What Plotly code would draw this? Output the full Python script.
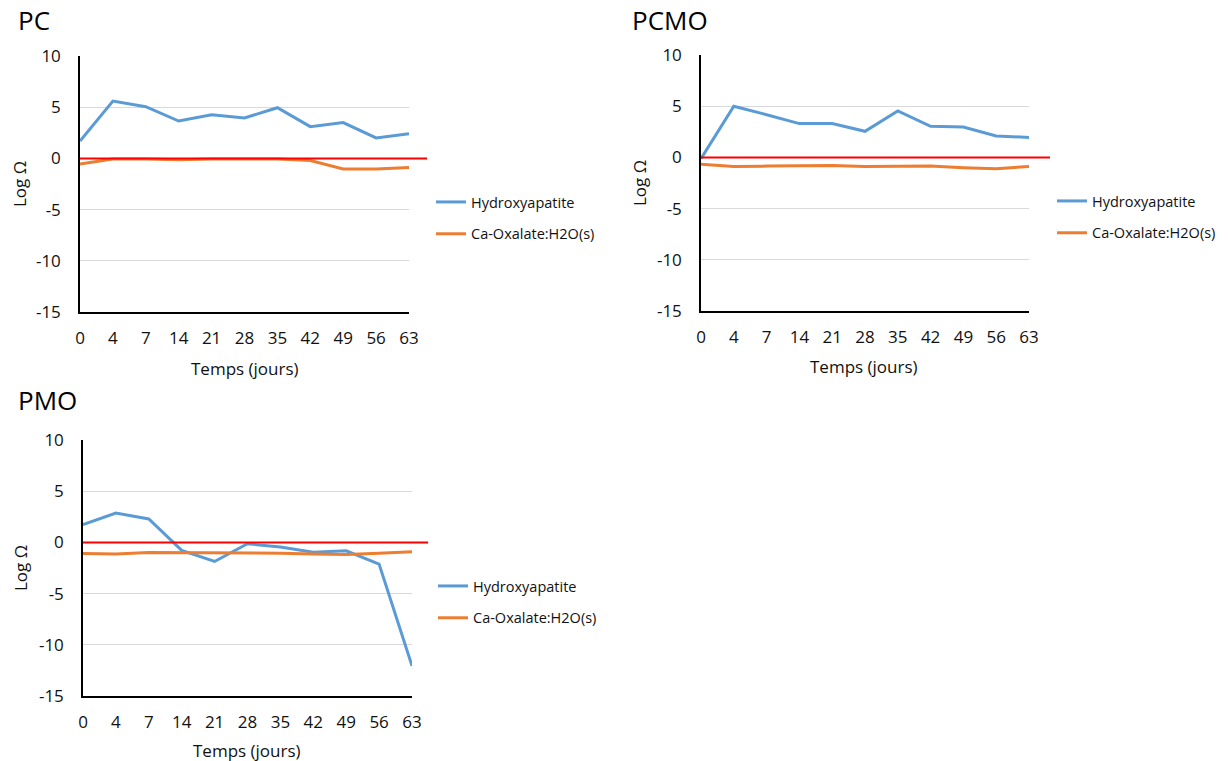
import plotly.graph_objects as go

days = ["0", "4", "7", "14", "21", "28", "35", "42", "49", "56", "63"]
series_names = ["Hydroxyapatite", "Ca-Oxalate:H2O(s)"]

pc_hydroxy = [1.7, 5.6, 5.05, 3.65, 4.25, 3.95, 4.95, 3.1, 3.5, 2.0, 2.4]
pc_oxalate = [-0.55, -0.05, -0.05, -0.12, -0.05, -0.05, -0.05, -0.2, -1.04, -1.04, -0.88]

pcmo_hydroxy = [-0.12, 5.0, 4.17, 3.3, 3.3, 2.55, 4.53, 3.03, 2.96, 2.1, 1.95]
pcmo_oxalate = [-0.68, -0.9, -0.85, -0.85, -0.78, -0.9, -0.9, -0.85, -1.0, -1.1, -0.88]

pmo_hydroxy = [1.73, 2.87, 2.29, -0.78, -1.86, -0.13, -0.46, -0.95, -0.82, -2.12, -12.06]
pmo_oxalate = [-1.08, -1.14, -0.98, -0.98, -1.01, -1.05, -1.05, -1.14, -1.18, -1.05, -0.92]

panel_titles = ["PC", "PCMO", "PMO"]
y_ticks = [-15, -10, -5, 0, 5, 10]
y_ticktext = ["-15", "-10", "-5", "0", "5", "10"]
x_title = "Temps (jours)"
y_title = "Log Ω"

BLUE = "#5B9BD5"
ORANGE = "#ED7D31"
FONT = "Open Sans"
TXT = "#111111"
W, H = 1230, 761


def px(x):
    return x / W


def py(y):
    return 1 - y / H


panels = [
    dict(h=pc_hydroxy, o=pc_oxalate, xd=(80, 409), yd=(56, 312), leg=(431, 186),
         title=(17, 20), ytl=(19, 184), xtl=(245, 368), redx1=1.055),
    dict(h=pcmo_hydroxy, o=pcmo_oxalate, xd=(701, 1029), yd=(55, 311), leg=(1052, 185),
         title=(631, 20), ytl=(639, 183), xtl=(864, 366), redx1=1.064),
    dict(h=pmo_hydroxy, o=pmo_oxalate, xd=(83, 412), yd=(440, 696), leg=(433, 570),
         title=(17, 400), ytl=(20, 568), xtl=(247, 750), redx1=1.049),
]

fig = go.Figure()
layout = dict(width=W, height=H, margin=dict(l=0, r=0, t=0, b=0, autoexpand=False),
              plot_bgcolor="white", paper_bgcolor="white",
              font=dict(family=FONT, color=TXT), showlegend=True)
annotations = []
shapes = []

for i, p in enumerate(panels):
    n = "" if i == 0 else str(i + 1)
    xa, ya = "x" + n, "y" + n
    lg = "legend" + n
    for vals, name, col in [(p["h"], series_names[0], BLUE), (p["o"], series_names[1], ORANGE)]:
        fig.add_trace(go.Scatter(x=days, y=vals, mode="lines", name=name,
                                 line=dict(color=col, width=3),
                                 xaxis=xa, yaxis=ya, legend=lg,
                                 legendgroup=name + n, showlegend=True))
    layout["xaxis" + n] = dict(
        domain=[px(p["xd"][0]), px(p["xd"][1])], anchor=ya, type="category",
        categoryorder="array", categoryarray=days, automargin=False,
        showline=True, linecolor="#000000", linewidth=1.5, showgrid=False,
        ticks="", tickfont=dict(size=17, color=TXT), ticklabelstandoff=10)
    layout["yaxis" + n] = dict(
        domain=[py(p["yd"][1]), py(p["yd"][0])], anchor=xa, automargin=False,
        range=[-15, 10], tickvals=y_ticks, ticktext=y_ticktext,
        showline=True, linecolor="#000000", linewidth=1.5,
        showgrid=True, gridcolor="#d9d9d9", gridwidth=1, zeroline=False,
        ticks="", tickfont=dict(size=17, color=TXT), ticklabelstandoff=14)
    layout[lg] = dict(x=px(p["leg"][0]), y=py(p["leg"][1]), xanchor="left", yanchor="top",
                      font=dict(size=14.5, color=TXT), bgcolor="rgba(0,0,0,0)",
                      tracegroupgap=10, itemwidth=30)
    # red reference line at Log Ω = 0 (y domain fraction derived from the axis range)
    zero_frac = (0 - (-15)) / (10 - (-15))
    shapes.append(dict(type="line", xref=xa + " domain", yref=ya + " domain",
                       x0=0, x1=p["redx1"], y0=zero_frac, y1=zero_frac,
                       line=dict(color="#FF0000", width=2), layer="above"))
    annotations.append(dict(text=panel_titles[i], xref="paper", yref="paper",
                            x=px(p["title"][0]), y=py(p["title"][1]),
                            xanchor="left", yanchor="middle", showarrow=False, borderpad=0,
                            font=dict(size=26, color="#000000")))
    annotations.append(dict(text=y_title, xref="paper", yref="paper",
                            x=px(p["ytl"][0]), y=py(p["ytl"][1]), textangle=-90,
                            xanchor="center", yanchor="middle", showarrow=False,
                            font=dict(size=17, color=TXT)))
    annotations.append(dict(text=x_title, xref="paper", yref="paper",
                            x=px(p["xtl"][0]), y=py(p["xtl"][1]),
                            xanchor="center", yanchor="middle", showarrow=False,
                            font=dict(size=17, color=TXT)))

layout["annotations"] = annotations
layout["shapes"] = shapes
fig.update_layout(**layout)
fig.write_html("out.html", config={"displayModeBar": False},
               post_script="document.body.style.margin='0px';document.body.style.overflow='hidden';")
